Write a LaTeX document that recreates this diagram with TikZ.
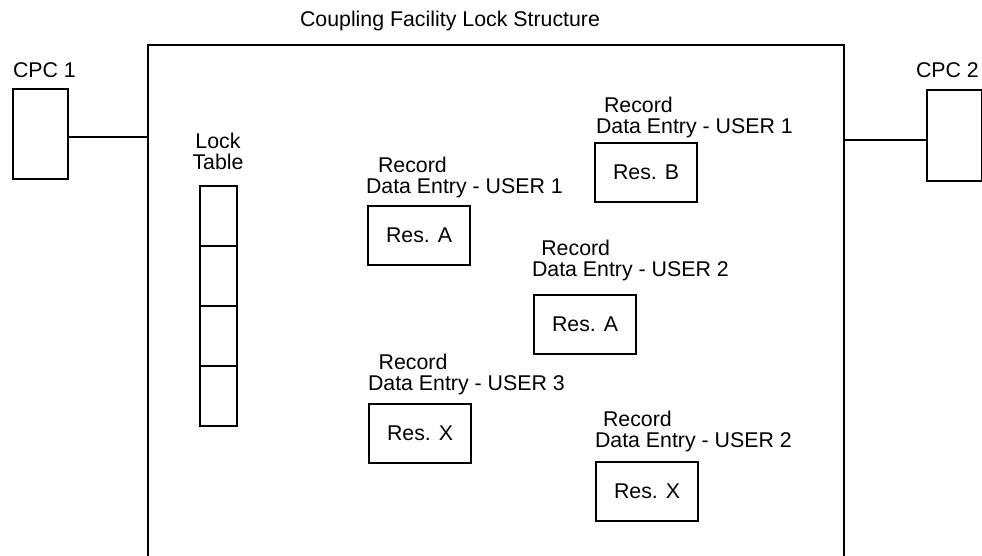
\documentclass[tikz,border=0pt]{standalone}
\usepackage{fontspec}
\setmainfont{Liberation Sans}
\begin{document}
\begin{tikzpicture}[x=0.75pt,y=-0.75pt,
  line width=1.5pt,
  txt/.style={inner sep=0pt,font=\fontsize{16}{15.75}\selectfont},
  lbl/.style={txt,align=left,anchor=north west},
  cell/.style={draw,rectangle,inner sep=0pt,outer sep=0pt,minimum width=28pt,minimum height=45pt}
]
\useasboundingbox (0,0) rectangle (982,556);
% main structure (open at bottom)
\coordinate (mbl) at (148,556);
\coordinate (mtl) at (148,45);
\coordinate (mtr) at (844,45);
\coordinate (mbr) at (844,556);
\draw (mbl) -- (mtl) -- (mtr) -- (mbr);
\node[txt,anchor=base] (title) at (450,27) {Coupling Facility Lock Structure};

% CPC 1
\node[draw,rectangle,inner sep=0pt,minimum width=41.25pt,minimum height=67.5pt,anchor=north west] (cpc1) at (12,88) {};
\node[txt,anchor=base west] (cpc1l) at (12,78) {CPC 1};
\coordinate (j1) at (148,137);
\draw (cpc1.east |- j1) -- (j1);

% CPC 2
\node[draw,rectangle,inner sep=0pt,minimum width=41.25pt,minimum height=68.25pt,anchor=north west] (cpc2) at (926,89) {};
\node[txt,anchor=base west] (cpc2l) at (915,78) {CPC 2};
\coordinate (j2) at (844,140);
\draw (j2) -- (cpc2.west |- j2);

% Lock table
\node[txt,align=center,anchor=base] (locklbl) at (218,170) {Lock\\Table};
\node[cell,anchor=north west] (c1) at (200,186) {};
\node[cell,anchor=north] (c2) at (c1.south) {};
\node[cell,anchor=north] (c3) at (c2.south) {};
\node[cell,anchor=north] (c4) at (c3.south) {};

% Record entries
\tikzset{rb/.style={draw,rectangle,inner sep=0pt,minimum width=76.5pt,minimum height=44pt,anchor=north west,txt}}
\node[rb] (ra1) at (367,205) {Res. A};
\node[lbl] (ra1l) at (365,156) {\hspace*{9pt}Record\\Data Entry - USER 1};

\node[rb] (rb1) at (594,142) {Res. B};
\node[lbl] (rb1l) at (595,96) {\hspace*{6pt}Record\\Data Entry - USER 1};

\node[rb] (ra2) at (533,294) {Res. A};
\node[lbl] (ra2l) at (531,239) {\hspace*{7pt}Record\\Data Entry - USER 2};

\node[rb] (rx3) at (368,403) {Res. X};
\node[lbl] (rx3l) at (367,353) {\hspace*{8pt}Record\\Data Entry - USER 3};

\node[rb] (rx2) at (595,461) {Res. X};
\node[lbl] (rx2l) at (594,410) {\hspace*{6pt}Record\\Data Entry - USER 2};
\end{tikzpicture}
\end{document}
